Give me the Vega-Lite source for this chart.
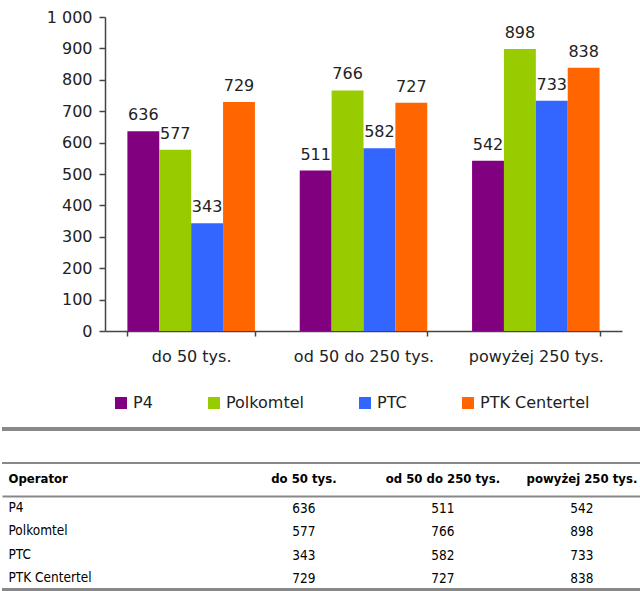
{
  "$schema": "https://vega.github.io/schema/vega-lite/v6.json",
  "padding": {"left": 0, "top": 9, "right": 0, "bottom": 0},
  "background": "white",
  "config": {"view": {"stroke": null}, "font": "DejaVu Sans"},
  "datasets": {
    "rows": [
      {"category": "do 50 tys.", "operator": "P4", "value": 636},
      {"category": "do 50 tys.", "operator": "Polkomtel", "value": 577},
      {"category": "do 50 tys.", "operator": "PTC", "value": 343},
      {"category": "do 50 tys.", "operator": "PTK Centertel", "value": 729},
      {"category": "od 50 do 250 tys.", "operator": "P4", "value": 511},
      {"category": "od 50 do 250 tys.", "operator": "Polkomtel", "value": 766},
      {"category": "od 50 do 250 tys.", "operator": "PTC", "value": 582},
      {"category": "od 50 do 250 tys.", "operator": "PTK Centertel", "value": 727},
      {"category": "powyżej 250 tys.", "operator": "P4", "value": 542},
      {"category": "powyżej 250 tys.", "operator": "Polkomtel", "value": 898},
      {"category": "powyżej 250 tys.", "operator": "PTC", "value": 733},
      {"category": "powyżej 250 tys.", "operator": "PTK Centertel", "value": 838}
    ]
  },
  "spacing": 63,
  "vconcat": [
    {
      "spacing": 24,
      "hconcat": [
        {
          "data": {"values": [{}]},
          "mark": {"type": "point", "opacity": 0},
          "width": 20,
          "height": 1
        },
        {
          "width": 517,
          "height": 314,
          "data": {"name": "rows"},
          "encoding": {
            "x": {
              "field": "category",
              "type": "nominal",
              "sort": ["do 50 tys.", "od 50 do 250 tys.", "powyżej 250 tys."],
              "scale": {"paddingInner": 0.26, "paddingOuter": 0.13},
              "axis": {
                "title": null,
                "labelAngle": 0,
                "labelFontSize": 16,
                "labelColor": "#222222",
                "labelPadding": 12,
                "tickBand": "extent",
                "tickSize": 5,
                "tickColor": "#444444",
                "tickWidth": 1.5,
                "domainColor": "#444444",
                "domainWidth": 1.5
              }
            },
            "xOffset": {
              "field": "operator",
              "type": "nominal",
              "sort": ["P4", "Polkomtel", "PTC", "PTK Centertel"],
              "scale": {"paddingInner": 0, "paddingOuter": 0}
            },
            "y": {
              "field": "value",
              "type": "quantitative",
              "scale": {"domain": [0, 1000]},
              "axis": {
                "title": null,
                "values": [0, 100, 200, 300, 400, 500, 600, 700, 800, 900, 1000],
                "labelExpr": "replace(format(datum.value, ','), ',', ' ')",
                "labelFontSize": 16,
                "labelColor": "#222222",
                "tickSize": 6,
                "labelPadding": 7,
                "grid": false,
                "tickColor": "#444444",
                "tickWidth": 1.5,
                "domainColor": "#444444",
                "domainWidth": 1.5
              }
            }
          },
          "layer": [
            {
              "mark": {"type": "bar"},
              "encoding": {
                "color": {
                  "field": "operator",
                  "type": "nominal",
                  "sort": ["P4", "Polkomtel", "PTC", "PTK Centertel"],
                  "scale": {
                    "domain": ["P4", "Polkomtel", "PTC", "PTK Centertel"],
                    "range": ["#800080", "#99CC00", "#3366FF", "#FF6600"]
                  },
                  "legend": {
                    "orient": "none",
                    "legendX": 111,
                    "legendY": 378,
                    "direction": "horizontal",
                    "title": null,
                    "symbolType": "square",
                    "symbolSize": 144,
                    "symbolStrokeWidth": 0,
                    "symbolOpacity": 1,
                    "labelFontSize": 16,
                    "labelColor": "#222222",
                    "labelOffset": 4,
                    "columnPadding": 53
                  }
                }
              }
            },
            {
              "mark": {"type": "text", "dy": -11, "baseline": "alphabetic", "fontSize": 16, "color": "#222222"},
              "encoding": {"text": {"field": "value", "type": "quantitative"}}
            }
          ]
        }
      ]
    },
    {
      "width": 640,
      "height": 94,
      "data": {"name": "rows"},
      "layer": [
        {
          "mark": {"type": "text", "fontSize": 13.5, "font": "DejaVu Sans Condensed, Liberation Sans, sans-serif", "color": "#000000", "baseline": "middle", "dy": 1},
          "encoding": {
            "x": {
              "field": "category",
              "type": "nominal",
              "sort": ["do 50 tys.", "od 50 do 250 tys.", "powyżej 250 tys."],
              "scale": {"type": "band", "paddingInner": 0.396, "paddingOuter": 1, "align": 0.935},
              "axis": {
                "orient": "top",
                "title": null,
                "labelAngle": 0,
                "labelFont": "DejaVu Sans Condensed, Liberation Sans, sans-serif",
                "labelFontWeight": "bold",
                "labelFontSize": 13,
                "labelColor": "#000000",
                "labelBaseline": "middle",
                "ticks": false,
                "labelPadding": 18,
                "domainColor": "#888888",
                "domainWidth": 2
              }
            },
            "y": {
              "field": "operator",
              "type": "nominal",
              "sort": ["P4", "Polkomtel", "PTC", "PTK Centertel"],
              "scale": {"paddingInner": 0, "paddingOuter": 0},
              "axis": {
                "title": "Operator",
                "titleAngle": 0,
                "titleX": 6,
                "titleY": -18,
                "titleAlign": "left",
                "titleBaseline": "middle",
                "titleFont": "DejaVu Sans Condensed, Liberation Sans, sans-serif",
                "titleFontWeight": "bold",
                "titleFontSize": 13,
                "titleColor": "#000000",
                "labelAlign": "left",
                "labelPadding": -6,
                "labelFont": "DejaVu Sans Condensed, Liberation Sans, sans-serif",
                "labelFontSize": 13.5,
                "labelColor": "#000000",
                "ticks": false,
                "domain": false,
                "grid": false
              }
            },
            "text": {"field": "value", "type": "quantitative"}
          }
        },
        {
          "mark": {"type": "rule", "color": "#888888", "strokeWidth": 3},
          "encoding": {"y": {"datum": "P4", "type": "nominal", "bandPosition": -2.85}}
        },
        {
          "mark": {"type": "rule", "color": "#888888", "strokeWidth": 2},
          "encoding": {"y": {"datum": "P4", "type": "nominal", "bandPosition": -1.4}}
        },
        {
          "mark": {"type": "rule", "color": "#888888", "strokeWidth": 3},
          "encoding": {"y": {"datum": "PTK Centertel", "type": "nominal", "bandPosition": 1}}
        }
      ]
    }
  ]
}
